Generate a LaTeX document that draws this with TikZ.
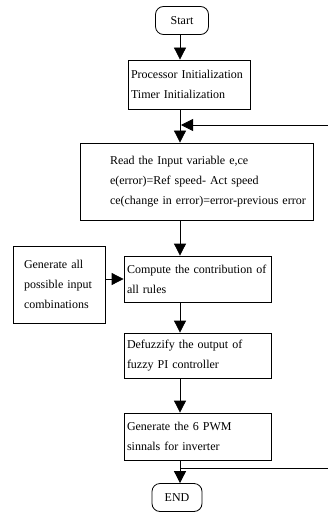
\documentclass[tikz,border=0pt]{standalone}
\usepackage{fontspec}
\setmainfont{Liberation Serif}
\usetikzlibrary{arrows.meta,positioning}

\begin{document}
\begin{tikzpicture}[x=1pt,y=-1pt,on grid,line width=0.8pt,
  >={Triangle[length=12pt,width=12pt]},
  every node/.style={font=\fontsize{12}{20}\selectfont},
  term/.style={draw,rounded corners=8pt,inner sep=0pt,minimum width=#1,minimum height=28pt},
  term/.default=52pt,
  proc/.style={draw,rectangle,align=left,inner xsep=3pt,inner ysep=0pt,text width=#1},
  proc/.default=141pt]
\useasboundingbox (0,0) rectangle (327,513);
\coordinate (axis) at (180,0);
\node[term=53pt] (Start) at (182,20.5) {Start};
\node[proc=116pt,minimum height=49pt] (B1) [below=64pt of Start,xshift=7pt] {Processor Initialization\\Timer Initialization};
\node[proc=227pt,minimum height=77pt] (B2) [below=97pt of B1,xshift=7.5pt] {\hspace*{27pt}Read the Input variable e,ce\\\hspace*{27pt}e(error)=Ref speed- Act speed\\\hspace*{27pt}ce(change in error)=error-previous error};
\node[proc,minimum height=46pt] (B3) [below=97.5pt of B2,xshift=1pt] {\mbox{Compute the contribution of}\\all rules};
\node[proc=70pt,inner xsep=11pt,minimum height=77pt] (Gen) [left=138.5pt of B3,yshift=-5.5pt] {Generate all\\possible input\\combinations};
\node[proc,minimum height=45pt] (B4) [below=76.5pt of B3] {Defuzzify the output of\\fuzzy PI controller};
\node[proc,minimum height=47pt] (B5) [below=81pt of B4] {Generate the 6 PWM\\sinnals for inverter};
\node[term=50pt] (End) [below=61pt of B5,xshift=-20.5pt] {END};
\coordinate (fbout) at (180,468);
\coordinate (fbin) at (181,125);
\coordinate (rim) at (340,0);
\draw[->] (axis |- Start.south) -- (axis |- B1.north);
\draw[->] (axis |- B1.south) -- (axis |- B2.north);
\draw[->] (axis |- B2.south) -- (axis |- B3.north);
\draw[->] (Gen.east |- B3.west) -- (B3.west);
\draw[->] (axis |- B3.south) -- (axis |- B4.north);
\draw[->] (axis |- B4.south) -- (axis |- B5.north);
\draw[->] (axis |- B5.south) -- (axis |- End.north);
\draw[->] (fbout) -- (fbout -| rim) -- (fbin -| rim) -- (fbin);
\end{tikzpicture}
\end{document}
